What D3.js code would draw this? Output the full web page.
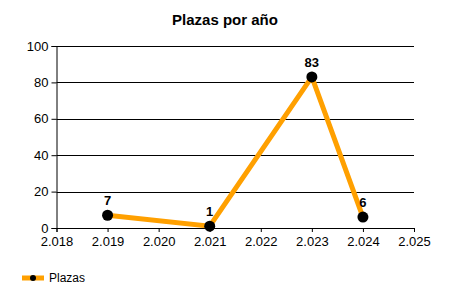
<!DOCTYPE html>
<html>
<head>
<meta charset="utf-8">
<script src="https://cdn.jsdelivr.net/npm/d3@7"></script>
<style>
  body { margin: 0; background: #fff; }
  text { font-family: "Liberation Sans", Arial, sans-serif; }
</style>
</head>
<body>
<div class="chart"></div>
<script>
// data
var years = [2019, 2021, 2023, 2024];
var plazas = [7, 1, 83, 6];
var xTicks = [2018, 2019, 2020, 2021, 2022, 2023, 2024, 2025];
var yTicks = [0, 20, 40, 60, 80, 100];
var seriesName = "Plazas";
var title = "Plazas por año";

var svgWidth = 450, svgHeight = 300;
var margin = { top: 46, right: 36, bottom: 72, left: 56.5 };
var width = svgWidth - margin.left - margin.right;
var height = svgHeight - margin.top - margin.bottom;

var svg = d3.select(".chart").append("svg")
  .attr("width", svgWidth)
  .attr("height", svgHeight);

var g = svg.append("g")
  .attr("transform", `translate(${margin.left}, ${margin.top})`);

var x = d3.scaleLinear().domain([2018, 2025]).range([0, width]);
var y = d3.scaleLinear().domain([0, 100]).range([height, 0]);

// title
svg.append("text")
  .attr("x", 225).attr("y", 25)
  .attr("text-anchor", "middle")
  .style("font-size", "15px").style("font-weight", "bold")
  .text(title);

// gridlines
g.selectAll(".grid").data(yTicks).enter().append("line")
  .attr("x1", 0).attr("x2", width)
  .attr("y1", d => Math.round(y(d)) + 0.5).attr("y2", d => Math.round(y(d)) + 0.5)
  .attr("stroke", "#000");

var xAxis = g.append("g")
  .attr("transform", `translate(0, ${height})`)
  .call(d3.axisBottom(x).tickValues(xTicks).tickSize(4).tickPadding(5)
    .tickFormat(d => (d / 1000).toFixed(3)));
var yAxis = g.append("g")
  .call(d3.axisLeft(y).tickValues(yTicks).tickSize(5).tickPadding(3));

[xAxis, yAxis].forEach(a => {
  a.select(".domain").attr("stroke", "#000");
  a.selectAll("line").attr("stroke", "#000");
  a.selectAll("text").style("font-size", "13px").attr("fill", "#000");
});

// line
var pts = years.map((d, i) => [d, plazas[i]]);
g.append("path")
  .datum(pts)
  .attr("fill", "none")
  .attr("stroke", "#FFA000")
  .attr("stroke-width", 5)
  .attr("d", d3.line().x(d => x(d[0])).y(d => y(d[1])));

g.selectAll(".pt").data(pts).enter().append("circle")
  .attr("cx", d => x(d[0])).attr("cy", d => y(d[1]))
  .attr("r", 5.5).attr("fill", "#000");

g.selectAll(".lbl").data(pts).enter().append("text")
  .attr("x", d => x(d[0])).attr("y", d => y(d[1]) - 10)
  .attr("text-anchor", "middle")
  .style("font-size", "13px").style("font-weight", "bold")
  .text(d => d[1]);

// legend
var leg = svg.append("g").attr("transform", "translate(22, 278)");
leg.append("line").attr("x1", 0).attr("x2", 22).attr("y1", 0).attr("y2", 0)
  .attr("stroke", "#FFA000").attr("stroke-width", 5);
leg.append("circle").attr("cx", 11).attr("cy", 0).attr("r", 3).attr("fill", "#000");
leg.append("text").attr("x", 27).attr("y", 4)
  .style("font-size", "12px").attr("fill", "#000").text(seriesName);
</script>
</body>
</html>
